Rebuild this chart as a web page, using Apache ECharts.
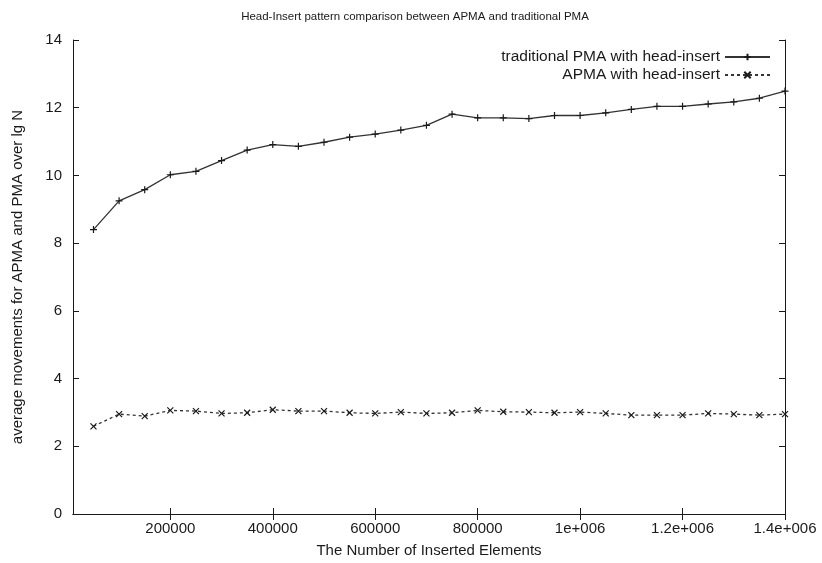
<!DOCTYPE html>
<html>
<head>
<meta charset="utf-8">
<title>Head-Insert pattern comparison</title>
<script src="https://cdn.jsdelivr.net/npm/echarts@6/dist/echarts.min.js"></script>
<style>
  html, body { margin: 0; padding: 0; background: #fff; }
  #chart { width: 822px; height: 563px; }
</style>
</head>
<body>
<div id="chart"></div>
<script>
// number of inserted elements (x)
var insertedCounts = [
  50000, 100000, 150000, 200000, 250000, 300000, 350000,
  400000, 450000, 500000, 550000, 600000, 650000, 700000,
  750000, 800000, 850000, 900000, 950000, 1000000, 1050000,
  1100000, 1150000, 1200000, 1250000, 1300000, 1350000, 1400000
];
// traditional PMA with head-insert
var traditionalPMA = [
  8.40, 9.25, 9.58, 10.02, 10.12, 10.44, 10.75,
  10.91, 10.86, 10.98, 11.13, 11.22, 11.34, 11.48,
  11.81, 11.70, 11.70, 11.68, 11.77, 11.77, 11.85,
  11.95, 12.04, 12.04, 12.11, 12.17, 12.28, 12.49
];
// APMA with head-insert
var apma = [
  2.59, 2.95, 2.89, 3.06, 3.04, 2.97, 2.99,
  3.08, 3.04, 3.04, 2.99, 2.97, 3.01, 2.97,
  2.99, 3.06, 3.02, 3.01, 2.99, 3.01, 2.97,
  2.92, 2.92, 2.92, 2.97, 2.95, 2.92, 2.95
];
var xTickValues = [200000, 400000, 600000, 800000, 1000000, 1200000, 1400000];
var xTickLabels = ['200000', '400000', '600000', '800000', '1e+006', '1.2e+006', '1.4e+006'];

var seriesNames = ['traditional PMA with head-insert', 'APMA with head-insert'];

function pairs(xs, ys) {
  var out = [];
  for (var i = 0; i < xs.length; i++) out.push([xs[i], ys[i]]);
  return out;
}

var font = 'Liberation Sans, Arial, sans-serif';
var ink = '#1a1a1a';
var plusSymbol = 'path://M0,5L10,5M5,0L5,10';
var crossSymbol = 'path://M0,0L10,10M10,0L0,10';

var chart = echarts.init(document.getElementById('chart'));

var xBase = {
  type: 'value',
  min: 10000,
  max: 1400000,
  splitLine: { show: false },
  axisLine: { lineStyle: { color: ink, width: 1 } },
  axisTick: { inside: true, length: 6, lineStyle: { color: ink }, customValues: xTickValues }
};
var yBase = {
  type: 'value',
  min: 0,
  max: 14,
  interval: 2,
  splitLine: { show: false },
  axisLine: { show: true, lineStyle: { color: ink, width: 1 } },
  axisTick: { inside: true, length: 6, lineStyle: { color: ink } }
};

var option = {
  backgroundColor: '#fff',
  animation: false,
  title: {
    text: 'Head-Insert pattern comparison between APMA and traditional PMA',
    left: 410,
    top: 6,
    textAlign: 'center',
    textStyle: { fontFamily: font, fontSize: 11.5, fontWeight: 'normal', color: ink }
  },
  grid: { left: 73, right: 37, top: 40, bottom: 49 },
  legend: {
    orient: 'vertical',
    right: 46,
    top: 44,
    align: 'right',
    itemWidth: 45,
    itemHeight: 8,
    itemGap: 2,
    data: seriesNames,
    textStyle: { fontFamily: font, fontSize: 15.5, color: ink }
  },
  xAxis: [
    Object.assign({}, xBase, {
      position: 'bottom',
      name: 'The Number of Inserted Elements',
      nameLocation: 'middle',
      nameGap: 29,
      nameTextStyle: { fontFamily: font, fontSize: 15, color: ink },
      axisLabel: {
        customValues: xTickValues,
        margin: 7,
        fontFamily: font, fontSize: 15, color: ink,
        formatter: function (v) {
          var i = xTickValues.indexOf(v);
          return i >= 0 ? xTickLabels[i] : '';
        }
      }
    }),
    Object.assign({}, xBase, {
      position: 'top',
      axisLabel: { show: false }
    })
  ],
  yAxis: [
    Object.assign({}, yBase, {
      position: 'left',
      name: 'average movements for APMA and PMA over lg N',
      nameLocation: 'middle',
      nameGap: 48,
      nameTextStyle: { fontFamily: font, fontSize: 15, color: ink },
      axisLabel: { margin: 11, fontFamily: font, fontSize: 15, color: ink }
    }),
    Object.assign({}, yBase, {
      position: 'right',
      axisLabel: { show: false }
    })
  ],
  series: [
    {
      name: seriesNames[0],
      type: 'line',
      data: pairs(insertedCounts, traditionalPMA),
      symbol: plusSymbol,
      symbolSize: 7,
      itemStyle: { color: ink, borderColor: ink, borderWidth: 1.2 },
      lineStyle: { color: '#333', width: 1.3, type: 'solid' }
    },
    {
      name: seriesNames[1],
      type: 'line',
      data: pairs(insertedCounts, apma),
      symbol: crossSymbol,
      symbolSize: 6,
      itemStyle: { color: ink, borderColor: ink, borderWidth: 1.2 },
      lineStyle: { color: '#333', width: 1.3, type: [3, 3] }
    }
  ]
};

chart.setOption(option);
</script>
</body>
</html>
